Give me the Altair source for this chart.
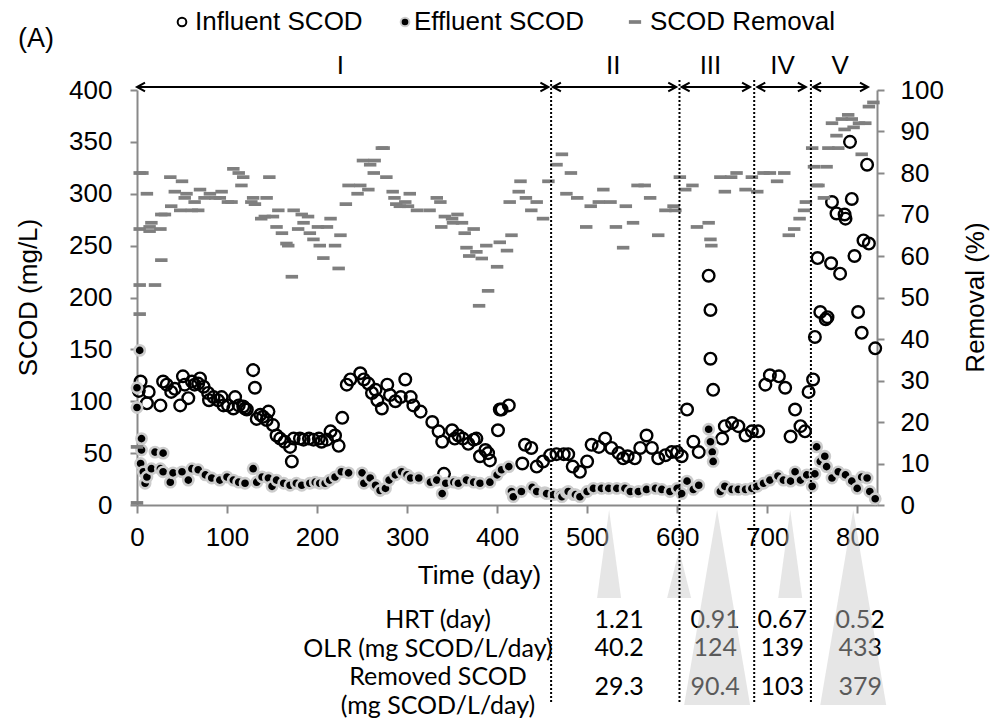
import altair as alt
import pandas as pd

# ---------------- data ----------------
inf_day = [2, 4, 11, 13, 26, 29, 33, 38, 42, 48, 51, 53, 57, 61, 64, 68, 70, 74, 79, 80, 85, 90, 94, 96, 101, 107,
           109, 113, 118, 120, 122, 129, 131, 133, 137, 140, 144, 146, 151, 155, 159, 164, 170, 172, 174, 181, 185,
           191, 196, 202, 205, 211, 215, 220, 224, 228, 233, 237, 248, 252, 257, 261, 265, 267, 272, 278, 281, 287,
           293, 298, 304, 307, 315, 328, 335, 339, 341, 350, 353, 357, 362, 368, 374, 377, 381, 387, 390, 392, 401,
           403, 405, 413, 428, 431, 438, 444, 451, 459, 466, 474, 479, 484, 492, 500, 505, 513, 520, 527, 535, 540,
           545, 553, 559, 566, 572, 579, 587, 594, 600, 605, 611, 618, 624, 635, 637, 637, 640, 650, 653, 661, 668,
           676, 683, 690, 698, 703, 713, 720, 726, 731, 737, 742, 746, 751, 753, 756, 759, 765, 767, 771, 772, 777,
           781, 786, 787, 792, 794, 797, 801, 805, 807, 811, 813, 820]
inf_val = [110, 119, 98, 109, 96, 119, 116, 109, 112, 96, 124, 116, 103, 119, 116, 117, 122, 114, 108, 101, 104, 101,
           104, 96, 96, 93, 104, 96, 95, 93, 92, 130, 113, 83, 87, 85, 82, 90, 77, 67, 64, 61, 56, 42, 64, 64, 63, 64,
           63, 64, 61, 63, 71, 67, 57, 84, 116, 121, 127, 121, 117, 108, 111, 101, 93, 116, 106, 100, 104, 121, 104,
           96, 90, 80, 71, 61, 30, 72, 64, 67, 64, 59, 63, 64, 47, 53, 50, 43, 72, 92, 92, 96, 40, 58, 55, 37, 42, 48,
           49, 49, 49, 37, 32, 42, 58, 56, 64, 55, 50, 45, 47, 45, 55, 67, 55, 45, 48, 51, 51, 47, 92, 61, 51, 221, 188,
           141, 111, 64, 76, 79, 76, 67, 71, 71, 116, 125, 124, 113, 66, 92, 76, 71, 109, 121, 162, 238, 186, 179, 181,
           233, 292, 281, 223, 280, 276, 350, 295, 240, 186, 166, 255, 328, 252, 151]

eff_day = [0, 3, 0, 5, 5, 4, 7, 9, 11, 16, 20, 26, 29, 29, 37, 40, 50, 57, 61, 68, 76, 83, 92, 100, 107, 113, 120,
           129, 133, 139, 146, 150, 155, 163, 170, 177, 183, 192, 198, 203, 209, 214, 220, 227, 235, 250, 252, 259,
           265, 270, 276, 280, 287, 294, 300, 304, 313, 326, 333, 339, 343, 352, 357, 366, 374, 381, 392, 400, 405,
           413, 416, 418, 427, 439, 444, 453, 455, 463, 470, 472, 477, 479, 485, 487, 492, 500, 507, 516, 524, 533,
           542, 548, 557, 566, 576, 583, 592, 600, 605, 611, 618, 624, 635, 637, 639, 640, 648, 653, 661, 668, 676,
           683, 689, 696, 703, 712, 718, 726, 731, 737, 744, 750, 753, 755, 759, 764, 766, 772, 779, 787, 794, 800,
           805, 811, 814, 820]
eff_val = [113, 149, 94, 64, 53, 40, 32, 21, 27, 35, 51, 35, 50, 32, 22, 31, 32, 24, 35, 34, 29, 26, 24, 27, 24, 22,
           21, 35, 22, 27, 26, 18, 24, 21, 19, 21, 19, 21, 22, 21, 21, 24, 27, 32, 31, 31, 21, 26, 19, 14, 16, 24, 29,
           32, 29, 26, 26, 22, 24, 11, 21, 22, 21, 24, 22, 21, 22, 29, 34, 37, 13, 8, 13, 17, 13, 12, 11, 10, 10, 8, 12,
           13, 10, 10, 8, 13, 16, 16, 16, 16, 16, 13, 13, 15, 16, 15, 13, 16, 11, 23, 15, 19, 73, 61, 51, 42, 13, 18,
           15, 15, 15, 16, 18, 21, 24, 28, 24, 23, 32, 24, 29, 18, 30, 56, 42, 47, 37, 26, 32, 29, 23, 16, 27, 26, 13, 6]

rem_day = [0, 0, 3, 6, 11, 3, 14, 16, 14, 26, 27, 31, 27, 3, 20, 3, 37, 42, 38, 50, 48, 53, 55, 61, 64, 68, 70, 75,
           81, 87, 94, 92, 101, 105, 107, 113, 118, 116, 129, 127, 131, 138, 144, 147, 142, 151, 157, 155, 161, 166,
           168, 172, 174, 183, 185, 190, 179, 192, 196, 201, 211, 203, 207, 215, 220, 224, 226, 235, 232, 245, 248,
           251, 257, 259, 264, 263, 272, 274, 277, 284, 286, 288, 292, 298, 301, 303, 311, 325, 333, 337, 338, 342,
           350, 351, 356, 361, 364, 366, 369, 377, 374, 383, 380, 390, 388, 400, 403, 411, 414, 416, 424, 426, 432,
           438, 444, 451, 457, 466, 472, 482, 477, 489, 499, 504, 513, 518, 526, 532, 540, 543, 551, 556, 564, 570,
           579, 587, 596, 598, 603, 609, 617, 622, 635, 637, 638, 648, 653, 660, 666, 676, 683, 689, 696, 703, 711,
           719, 724, 730, 736, 741, 743, 750, 752, 766, 755, 757, 763, 768, 772, 777, 779, 783, 786, 790, 794, 796,
           802, 805, 809, 813, 818]
rem_val = [14, 0.5, 80, 80, 75, 66.5, 67, 68, 66, 66.5, 70, 70, 59, 53, 53, 46, 79, 75.5, 72, 78, 71, 74, 75, 71, 73,
           71, 76, 74, 75, 74, 75.5, 74, 73, 73, 81, 80, 79, 77, 74, 73, 72.5, 69, 74, 79, 69.5, 69.5, 71, 67, 65.5, 63,
           62.5, 55, 71, 70, 68, 69.5, 66.5, 65.5, 64, 67, 67, 62.5, 59.5, 69, 62.5, 57, 65, 77, 72.5, 75, 77, 83, 76,
           82, 83, 80, 86, 86, 79, 75.5, 74, 72.5, 72, 73, 72, 75, 71, 71, 74, 73, 67, 69.5, 69, 68, 70, 68, 65.5, 62,
           60, 61, 66.5, 59.4, 48, 51.6, 62.5, 57.4, 63.3, 61.3, 73, 65, 75.5, 78, 74, 71, 73, 69, 78, 82, 84.5, 80, 75,
           74, 67, 72, 73, 76, 73, 67, 62, 72, 68, 77, 77, 74, 65, 71, 72, 71, 79, 76, 77, 67, 68, 64, 62.5, 79, 75.5,
           79, 80, 76, 79, 75.5, 80, 80, 78, 80, 65, 66.5, 69, 71, 73, 86, 81.5, 81.5, 77, 77, 74, 86, 92, 89, 86, 93,
           90.5, 94, 93, 91, 92, 84.5, 92, 96, 97]

phase_labels = ["I", "II", "III", "IV", "V"]
phase_start = [0, 462, 605, 689, 751]
phase_end = [457, 599, 681, 743, 812]
phase_mid = [226, 529, 637, 717, 781]
phase_bounds = [460, 602.6, 685.6, 748.6]

row_labels = ["HRT (day)", "OLR (mg SCOD/L/day)", "Removed SCOD", "(mg SCOD/L/day)"]
col_day = [535.6, 642.2, 716.7, 803.3]
hrt_txt = ["1.21", "0.91", "0.67", "0.52"]
olr_txt = ["40.2", "124", "139", "433"]
rsc_txt = ["29.3", "90.4", "103", "379"]

tri_day = [524.4, 602.2, 644.4, 725.6, 795.6]
tri_kind = ["small", "short", "big", "small", "big"]

# ---------------- style ----------------
GRAY = "#898989"
FONT = "Liberation Sans"
TFONT = "Lato"
FS = 26
W, H = 740, 415
X0, Y0 = 137, 90


def rx(x):
    return x - X0


def ry(y):
    return y - Y0


xscale = alt.Scale(domain=[0, 822], nice=False, zero=False)
DASH = "M-1,-0.3L1,-0.3L1,0.3L-1,0.3Z"

xaxis = alt.Axis(values=list(range(0, 801, 100)), tickSize=8, tickWidth=2, tickColor=GRAY,
                 domainColor=GRAY, domainWidth=2, labelFont=FONT, labelFontSize=FS, labelColor="black",
                 labelPadding=11, labelFlush=False, grid=False, title="Time (day)", titleFont=FONT,
                 titleFontSize=FS, titleFontWeight="normal", titleColor="black", titleX=342, titleY=70,
                 titleAlign="center", titleBaseline="middle")
yaxis = alt.Axis(values=list(range(0, 401, 50)), tickSize=7, tickWidth=2, tickColor=GRAY,
                 domainColor=GRAY, domainWidth=2, labelFont=FONT, labelFontSize=FS, labelColor="black",
                 labelPadding=18, labelFlush=False, grid=False, title="SCOD (mg/L)", titleFont=FONT,
                 titleFontSize=FS, titleFontWeight="normal", titleColor="black", titleAngle=270,
                 titleX=-109, titleY=207, titleAlign="center", titleBaseline="middle")
raxis = alt.Axis(orient="right", values=list(range(0, 101, 10)), tickSize=7, tickWidth=2, tickColor=GRAY,
                 domainColor=GRAY, domainWidth=2, labelFont=FONT, labelFontSize=FS, labelColor="black",
                 labelPadding=16, labelFlush=False, grid=False, title="Removal (%)", titleFont=FONT,
                 titleFontSize=FS, titleFontWeight="normal", titleColor="black", titleAngle=270,
                 titleX=98, titleY=207, titleAlign="center", titleBaseline="middle")


def X(field):
    return alt.X(field, scale=xscale, axis=xaxis)


df_inf = pd.DataFrame({"day": inf_day, "scod": inf_val})
df_eff = pd.DataFrame({"day": eff_day, "scod": eff_val})
df_rem = pd.DataFrame({"day": rem_day, "rem": rem_val})

inf = alt.Chart(df_inf).mark_point(shape="circle", filled=False, color="black", strokeWidth=2.4,
                                   size=135, opacity=1).encode(
    x=X("day:Q"),
    y=alt.Y("scod:Q", scale=alt.Scale(domain=[0, 400], nice=False), axis=yaxis))

eff = alt.Chart(df_eff).mark_point(shape="circle", filled=True, fill="black", stroke="#cccccc",
                                   strokeWidth=2.6, size=105, opacity=1, fillOpacity=1).encode(
    x=X("day:Q"),
    y=alt.Y("scod:Q", scale=alt.Scale(domain=[0, 400], nice=False), axis=None))

rem = alt.Chart(df_rem).mark_point(shape=DASH, filled=True, color="#7f7f7f", size=155, opacity=1).encode(
    x=X("day:Q"),
    y=alt.Y("rem:Q", scale=alt.Scale(domain=[0, 100], nice=False), axis=raxis))

# ---------------- phase annotations ----------------
df_ph = pd.DataFrame({"lab": phase_labels, "s": phase_start, "e": phase_end, "m": phase_mid})
arrows = alt.Chart(df_ph).mark_rule(color="black", strokeWidth=2).encode(
    x=X("s:Q"), x2="e:Q", y=alt.value(ry(87)))
lheads = alt.Chart(df_ph).mark_point(shape="M1,-0.55L0,0L1,0.55", filled=False, color="black",
                                     strokeWidth=2, size=256, opacity=1).encode(
    x=X("s:Q"), y=alt.value(ry(87)))
rheads = alt.Chart(df_ph).mark_point(shape="M-1,-0.55L0,0L-1,0.55", filled=False, color="black",
                                     strokeWidth=2, size=256, opacity=1).encode(
    x=X("e:Q"), y=alt.value(ry(87)))
plabels = alt.Chart(df_ph).mark_text(font=FONT, fontSize=FS, color="black", baseline="middle").encode(
    x=X("m:Q"), y=alt.value(ry(66)), text="lab:N")

bounds = alt.Chart(pd.DataFrame({"b": phase_bounds})).mark_rule(
    color="black", strokeWidth=2, strokeDash=[2, 2]).encode(
    x=X("b:Q"), y=alt.value(ry(80)), y2=alt.value(ry(704)))

# ---------------- table ----------------
TFS = 25
df_rows = pd.DataFrame({"t": row_labels,
                        "xx": [rx(438), rx(428), rx(438), rx(438)],
                        "yy": [ry(620), ry(649), ry(677), ry(706)]})
row_txt = alt.Chart(df_rows).mark_text(font=TFONT, fontSize=TFS, color="black", align="center",
                                       baseline="middle").encode(
    x=alt.X("xx:Q", scale=None), y=alt.Y("yy:Q", scale=None), text="t:N")

df_vals = pd.DataFrame({
    "d": col_day * 3,
    "t": hrt_txt + olr_txt + rsc_txt,
    "yy": [ry(620)] * 4 + [ry(648)] * 4 + [ry(687)] * 4,
})
val_txt = alt.Chart(df_vals).mark_text(font=TFONT, fontSize=TFS, color="black", align="center",
                                       baseline="middle").encode(
    x=X("d:Q"), y=alt.Y("yy:Q", scale=None), text="t:N")

TRI = {
    "small": ("M0,-1L0.273,1L-0.273,1Z", 88 ** 2, (510 + 598) / 2),
    "short": ("M0,-1L0.5,1L-0.5,1Z", 48 ** 2, (550 + 598) / 2),
    "big": ("M0,-1L0.338,1L-0.338,1Z", 195 ** 2, (510 + 705) / 2),
}
tri_layers = []
for d, k in zip(tri_day, tri_kind):
    path, sz, cy = TRI[k]
    tri_layers.append(
        alt.Chart(pd.DataFrame({"d": [d]})).mark_point(
            shape=path, filled=True, color="#c8c8c8", opacity=0.45, size=sz, strokeWidth=0).encode(
            x=X("d:Q"), y=alt.value(ry(cy))))

# ---------------- legend & panel tag ----------------
LY = ry(22)
tag = alt.Chart(pd.DataFrame({"t": ["(A)"]})).mark_text(
    font=FONT, fontSize=27, align="left", baseline="middle", color="black").encode(
    x=alt.value(rx(18)), y=alt.value(ry(39)), text="t:N")
leg_txt = alt.Chart(pd.DataFrame({"t": ["Influent SCOD", "Effluent SCOD", "SCOD Removal"],
                                  "xx": [rx(195), rx(414), rx(650)]})).mark_text(
    font=FONT, fontSize=FS, align="left", baseline="middle", color="black").encode(
    x=alt.X("xx:Q", scale=None), y=alt.value(LY), text="t:N")
leg_inf = alt.Chart(pd.DataFrame({"k": [0]})).mark_point(
    shape="circle", filled=False, color="black", strokeWidth=2, size=75, opacity=1).encode(
    x=alt.value(rx(182)), y=alt.value(LY))
leg_eff = alt.Chart(pd.DataFrame({"k": [0]})).mark_point(
    shape="circle", filled=True, fill="black", stroke="#cccccc", strokeWidth=2, size=75, opacity=1).encode(
    x=alt.value(rx(405)), y=alt.value(LY))
leg_rem = alt.Chart(pd.DataFrame({"k": [0]})).mark_point(
    shape=DASH, filled=True, color="#7f7f7f", size=150, opacity=1).encode(
    x=alt.value(rx(635)), y=alt.value(LY))

chart = alt.layer(
    inf, eff, rem, row_txt, val_txt, *tri_layers, bounds, arrows, lheads, rheads, plabels,
    tag, leg_txt, leg_inf, leg_eff, leg_rem
).resolve_scale(y="independent").properties(
    width=W, height=H,
    autosize=alt.AutoSizeParams(type="none"),
    padding={"left": X0, "top": Y0, "right": 992 - X0 - W, "bottom": 727 - Y0 - H},
).configure_view(stroke=None)

chart.save("out.html", embed_options={"renderer": "svg", "actions": False})
